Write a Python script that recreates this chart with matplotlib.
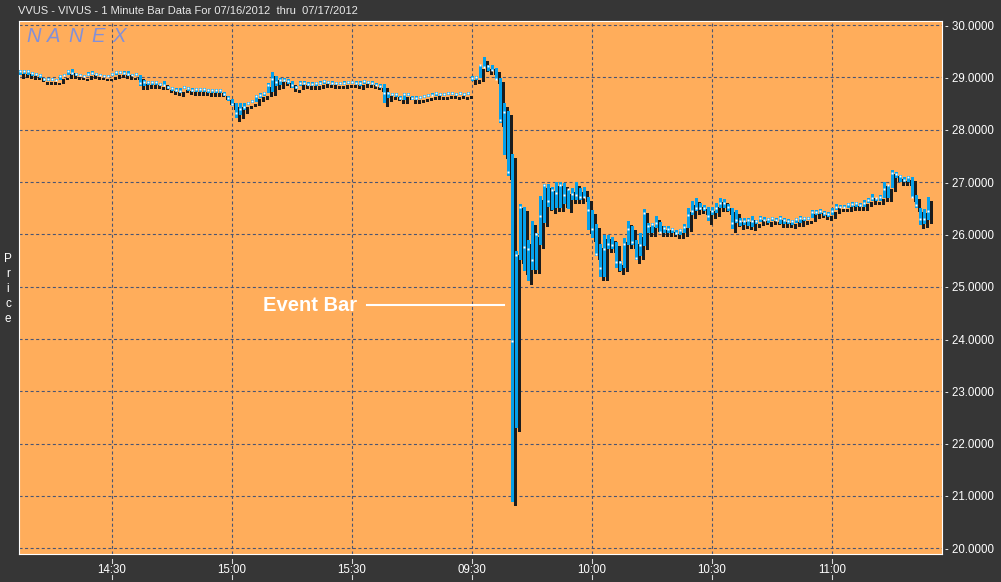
import matplotlib
matplotlib.use("Agg")
import matplotlib.pyplot as plt
import matplotlib.transforms as mtransforms
import numpy as np
import pandas as pd

title = "VVUS - VIVUS - 1 Minute Bar Data For 07/16/2012  thru  07/17/2012"

# 07/16 14:07 .. 15:59, one bar per minute
day1_high = [29.15, 29.15, 29.15, 29.10, 29.08, 29.07, 28.99, 28.99, 28.99, 28.98,
             29.05, 29.07, 29.14, 29.16, 29.08, 29.07, 29.05, 29.10, 29.12, 29.08,
             29.07, 29.05, 29.05, 29.08, 29.13, 29.13, 29.12, 29.12, 29.07, 29.08,
             29.05, 28.96, 28.93, 28.94, 28.93, 28.89, 28.94, 28.84, 28.82, 28.80,
             28.80, 28.84, 28.82, 28.80, 28.80, 28.80, 28.80, 28.78, 28.78, 28.78,
             28.78, 28.73, 28.65, 28.59, 28.51, 28.51, 28.52, 28.54, 28.57, 28.67,
             28.70, 28.73, 28.89, 29.10, 29.03, 28.99, 28.99, 28.97, 28.93, 28.84,
             28.93, 28.93, 28.91, 28.91, 28.91, 28.93, 28.96, 28.94, 28.93, 28.91,
             28.91, 28.93, 28.94, 28.94, 28.93, 28.93, 28.96, 28.94, 28.93, 28.89,
             28.88, 28.88, 28.73, 28.71, 28.71, 28.64, 28.71, 28.71, 28.64, 28.64,
             28.65, 28.67, 28.69, 28.70, 28.73, 28.71, 28.71, 28.73, 28.73, 28.71,
             28.73, 28.71, 28.73]
day1_low = [29.05, 29.07, 29.05, 29.03, 29.03, 28.99, 28.93, 28.94, 28.94, 28.93,
            28.96, 29.02, 29.05, 29.05, 29.03, 29.03, 29.01, 29.02, 29.05, 29.03,
            29.02, 29.01, 29.01, 29.02, 29.05, 29.07, 29.05, 29.03, 29.02, 29.02,
            28.84, 28.84, 28.86, 28.86, 28.86, 28.84, 28.83, 28.78, 28.75, 28.73,
            28.71, 28.78, 28.75, 28.73, 28.73, 28.73, 28.73, 28.71, 28.71, 28.71,
            28.71, 28.64, 28.56, 28.45, 28.22, 28.29, 28.38, 28.48, 28.51, 28.54,
            28.61, 28.65, 28.70, 28.73, 28.83, 28.86, 28.91, 28.88, 28.80, 28.78,
            28.83, 28.86, 28.84, 28.83, 28.84, 28.86, 28.88, 28.88, 28.86, 28.86,
            28.86, 28.86, 28.88, 28.88, 28.86, 28.84, 28.88, 28.88, 28.86, 28.83,
            28.80, 28.52, 28.61, 28.65, 28.63, 28.57, 28.57, 28.64, 28.57, 28.57,
            28.59, 28.61, 28.63, 28.64, 28.64, 28.65, 28.65, 28.67, 28.67, 28.65,
            28.67, 28.65, 28.67]
day1_close = [29.13, 29.12, 29.13, 29.08, 29.06, 29.05, 28.97, 28.97, 28.97, 28.96,
              29.02, 29.05, 29.12, 29.08, 29.06, 29.05, 29.03, 29.07, 29.09, 29.06,
              29.05, 29.03, 29.03, 29.06, 29.11, 29.11, 29.09, 29.07, 29.05, 29.06,
              28.90, 28.92, 28.91, 28.92, 28.91, 28.87, 28.86, 28.82, 28.80, 28.77,
              28.74, 28.82, 28.80, 28.77, 28.78, 28.78, 28.78, 28.76, 28.76, 28.76,
              28.76, 28.69, 28.60, 28.50, 28.32, 28.40, 28.44, 28.52, 28.55, 28.64,
              28.67, 28.70, 28.85, 28.98, 28.92, 28.96, 28.95, 28.94, 28.86, 28.82,
              28.90, 28.90, 28.88, 28.88, 28.89, 28.90, 28.93, 28.92, 28.90, 28.89,
              28.89, 28.90, 28.92, 28.92, 28.90, 28.89, 28.93, 28.92, 28.90, 28.86,
              28.84, 28.70, 28.70, 28.68, 28.68, 28.61, 28.68, 28.68, 28.61, 28.61,
              28.62, 28.64, 28.66, 28.67, 28.70, 28.68, 28.68, 28.70, 28.70, 28.68,
              28.70, 28.68, 28.70]

# 07/17 09:30 .. 11:24
day2_high = [29.03, 29.03, 29.24, 29.39, 29.24, 29.24, 29.18, 28.99, 28.51, 28.35,
             27.54, 25.68, 26.58, 26.52, 25.89, 26.26, 26.02, 26.74, 26.97, 26.97,
             26.90, 27.01, 27.01, 26.99, 26.85, 26.88, 27.01, 26.88, 26.91, 26.72,
             26.47, 26.19, 25.81, 25.99, 25.99, 25.96, 25.85, 25.49, 25.93, 26.26,
             26.16, 25.89, 26.02, 26.49, 26.21, 26.21, 26.35, 26.23, 26.16, 26.16,
             26.13, 26.09, 26.10, 26.19, 26.51, 26.64, 26.69, 26.60, 26.56, 26.53,
             26.53, 26.60, 26.69, 26.67, 26.58, 26.50, 26.47, 26.31, 26.32, 26.31,
             26.35, 26.28, 26.35, 26.34, 26.31, 26.34, 26.31, 26.35, 26.32, 26.30,
             26.28, 26.32, 26.35, 26.33, 26.34, 26.47, 26.47, 26.48, 26.45, 26.42,
             26.50, 26.58, 26.56, 26.56, 26.61, 26.62, 26.62, 26.60, 26.66, 26.69,
             26.77, 26.70, 26.76, 27.00, 26.95, 27.23, 27.19, 27.14, 27.09, 27.12,
             27.09, 26.76, 26.51, 26.49, 26.71]
day2_low = [28.94, 28.96, 28.99, 29.18, 29.12, 29.12, 28.96, 28.13, 27.52, 27.11,
            20.89, 22.30, 25.51, 25.31, 25.10, 25.32, 25.32, 25.79, 26.21, 26.53,
            26.47, 26.51, 26.51, 26.58, 26.49, 26.66, 26.66, 26.66, 26.69, 26.09,
            25.94, 25.58, 25.19, 25.19, 25.73, 25.73, 25.35, 25.30, 25.35, 25.80,
            25.80, 25.51, 25.58, 25.77, 26.02, 26.02, 26.12, 26.02, 26.02, 26.02,
            26.02, 25.99, 25.99, 26.02, 26.12, 26.37, 26.44, 26.47, 26.44, 26.25,
            26.37, 26.40, 26.50, 26.50, 26.44, 26.10, 26.21, 26.16, 26.18, 26.16,
            26.15, 26.19, 26.23, 26.25, 26.21, 26.25, 26.25, 26.19, 26.19, 26.19,
            26.18, 26.21, 26.21, 26.26, 26.28, 26.31, 26.37, 26.39, 26.36, 26.34,
            26.37, 26.47, 26.50, 26.50, 26.51, 26.53, 26.53, 26.53, 26.53, 26.60,
            26.63, 26.63, 26.64, 26.69, 26.70, 26.88, 27.07, 27.01, 27.00, 27.01,
            26.70, 26.50, 26.18, 26.19, 26.28]
day2_close = [28.99, 29.00, 29.23, 29.20, 29.22, 29.15, 28.97, 28.18, 28.34, 27.20,
              23.96, 25.60, 26.53, 25.76, 25.73, 25.51, 26.00, 26.35, 26.94, 26.63,
              26.84, 26.79, 26.94, 26.76, 26.86, 26.78, 26.76, 26.72, 26.72, 26.47,
              26.10, 25.62, 25.36, 25.73, 25.81, 25.80, 25.47, 25.48, 25.81, 26.10,
              25.85, 25.54, 25.80, 26.40, 26.16, 26.19, 26.21, 26.05, 26.13, 26.10,
              26.10, 26.03, 26.09, 26.15, 26.37, 26.45, 26.50, 26.51, 26.51, 26.35,
              26.44, 26.51, 26.60, 26.60, 26.53, 26.21, 26.28, 26.25, 26.25, 26.28,
              26.26, 26.25, 26.32, 26.28, 26.29, 26.31, 26.28, 26.31, 26.28, 26.26,
              26.26, 26.30, 26.32, 26.31, 26.32, 26.42, 26.42, 26.45, 26.40, 26.39,
              26.44, 26.53, 26.53, 26.53, 26.58, 26.58, 26.60, 26.56, 26.60, 26.66,
              26.69, 26.69, 26.72, 26.87, 26.95, 27.17, 27.15, 27.11, 27.04, 27.09,
              26.72, 26.56, 26.29, 26.29, 26.44]

price_ticks = [20, 21, 22, 23, 24, 25, 26, 27, 28, 29, 30]

high = np.array(day1_high + day2_high)
low = np.array(day1_low + day2_low)
close = np.array(day1_close + day2_close)
times = list(pd.date_range("2012-07-16 14:07", periods=len(day1_high), freq="min")) + \
        list(pd.date_range("2012-07-17 09:30", periods=len(day2_high), freq="min"))

plt.rcParams['font.family'] = ['Liberation Sans', 'DejaVu Sans']
plt.rcParams['lines.scale_dashes'] = False

bg = '#363636'
fig = plt.figure(figsize=(10.01, 5.82), dpi=100, facecolor=bg)
ax = fig.add_axes([19 / 1001, 28.5 / 582, 923 / 1001, 532.5 / 582])
ax.set_facecolor('#ffad5b')

x = np.arange(len(high))
shadow = mtransforms.offset_copy(ax.transData, fig=fig, x=3, y=-4, units='dots')
black_bars = ax.bar(x, high - low, bottom=low, width=0.75, align='edge',
                    color='#1c1c1c', linewidth=0, zorder=3)
for b in black_bars:
    b.set_transform(shadow)
ax.bar(x, high - low, bottom=low, width=0.75, align='edge',
       color='#05a0ea', linewidth=0, zorder=4)
ax.plot(x + 0.3, close, 's', ms=1.7, color='white', mec='none', zorder=5)

tick_idx = [k for k, t in enumerate(times) if t.minute % 30 == 0]
tick_pos = [k + 0.25 for k in tick_idx]
tick_lab = [times[k].strftime('%H:%M') for k in tick_idx]

ax.set_xlim(0, 230.75)
ax.set_ylim(19.90, 30.08)
ax.set_xticks(tick_pos, tick_lab)
ax.set_yticks(price_ticks, [f"- {v:.4f}" for v in price_ticks])
ax.yaxis.tick_right()
ax.tick_params(axis='both', length=0, colors='white', labelsize=8.3)
ax.tick_params(axis='x', pad=7.5)
ax.tick_params(axis='y', pad=2.5)
ax.grid(True, color='#4a5573', lw=0.8, linestyle=(0, (2.2, 1.8)), zorder=1)
ax.set_axisbelow(True)
for s in ax.spines.values():
    s.set_color('white')
    s.set_linewidth(0.8)

# small tick dashes above and below the time labels
trans = mtransforms.blended_transform_factory(ax.transData, ax.transAxes)
for p in tick_pos:
    ax.plot([p, p], [-0.0103, -0.0178], color='#d8d8d8', lw=0.8, transform=trans, clip_on=False)
    ax.plot([p, p], [-0.0404, -0.0479], color='#d8d8d8', lw=0.8, transform=trans, clip_on=False)

fig.text(18 / 1001, 1 - 11 / 582, title, ha='left', va='center', color='#e8e8e8', fontsize=8)
fig.text(8 / 1001, 1 - 289 / 582, "P\nr\ni\nc\ne", ha='center', va='center',
         color='white', fontsize=8.5, linespacing=1.35)

for lx, ch in zip([26, 47, 68, 91, 112], "NANEX"):
    fig.text(lx / 1001, 1 - 37 / 582, ch, ha='left', va='center', style='italic',
             color='#8290d8', fontsize=14.5)

ax.text(84.5, 24.65, "Event Bar", ha='right', va='center', color='white',
        fontsize=14.5, fontweight='bold', zorder=6)
ax.plot([87, 121.3], [24.65, 24.65], color='white', lw=1.5, zorder=6)

fig.savefig('out.png', dpi=100, facecolor=bg)
